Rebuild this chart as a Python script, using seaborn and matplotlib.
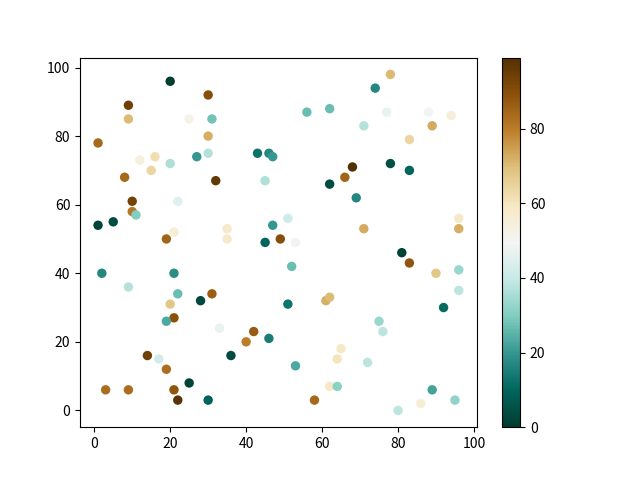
import matplotlib
matplotlib.use("Agg")
import matplotlib.pyplot as plt
import seaborn as sns
import numpy as np
import pandas as pd

plt.rcParams['font.family'] = ['Noto Sans CJK SC', 'DejaVu Sans']

x_vals = [20, 9, 30, 78, 74, 9, 25, 31, 56, 62, 71, 77, 88, 94, 89, 83, 1, 30, 12, 16,
          15, 20, 27, 30, 8, 32, 43, 46, 47, 45, 62, 66, 68, 78, 83, 69, 10, 10, 11, 22,
          1, 5, 21, 35, 35, 19, 47, 45, 49, 51, 53, 71, 96, 96, 2, 9, 21, 22, 20, 21,
          19, 28, 31, 52, 51, 61, 62, 81, 83, 90, 96, 96, 92, 75, 76, 40, 42, 33, 46, 36,
          14, 17, 19, 53, 65, 64, 72, 3, 9, 21, 25, 22, 30, 58, 62, 64, 80, 86, 89, 95]
y_vals = [96, 89, 92, 98, 94, 85, 85, 85, 87, 88, 83, 87, 87, 86, 83, 79, 78, 80, 73, 74,
          70, 72, 74, 75, 68, 67, 75, 75, 74, 67, 66, 68, 71, 72, 70, 62, 61, 58, 57, 61,
          54, 55, 52, 53, 50, 50, 54, 49, 50, 56, 49, 53, 56, 53, 40, 36, 40, 34, 31, 27,
          26, 32, 34, 42, 31, 32, 33, 46, 43, 40, 41, 35, 30, 26, 23, 20, 23, 24, 21, 16,
          16, 15, 12, 13, 18, 15, 14, 6, 6, 6, 8, 3, 3, 3, 7, 7, 0, 2, 6, 3]
c_vals = [0, 94, 90, 70, 17, 70, 52, 28, 27, 27, 37, 47, 49, 55, 73, 64, 84, 72, 54, 62,
          64, 36, 20, 37, 84, 96, 12, 17, 20, 36, 4, 85, 99, 5, 10, 17, 93, 81, 30, 45,
          2, 4, 56, 58, 58, 85, 20, 10, 90, 41, 49, 73, 59, 72, 17, 37, 18, 27, 68, 89,
          23, 3, 86, 27, 13, 72, 70, 2, 88, 68, 33, 38, 11, 33, 38, 80, 87, 47, 15, 4,
          94, 42, 83, 23, 59, 60, 38, 83, 83, 88, 2, 98, 9, 84, 59, 31, 38, 56, 22, 32]

df = pd.DataFrame({"x": x_vals, "y": y_vals, "c": c_vals})

fig, ax = plt.subplots(figsize=(6.4, 4.8), dpi=100)
cmap = plt.get_cmap("BrBG_r")
norm = plt.Normalize(min(c_vals), max(c_vals))
sns.scatterplot(data=df, x="x", y="y", hue="c", palette=cmap, hue_norm=norm,
                s=46, linewidth=0, legend=False, ax=ax)
ax.set_xlabel("")
ax.set_ylabel("")
sm = plt.cm.ScalarMappable(cmap=cmap, norm=norm)
sm.set_array([])
fig.colorbar(sm, ax=ax)
fig.savefig("out.png", dpi=100)
